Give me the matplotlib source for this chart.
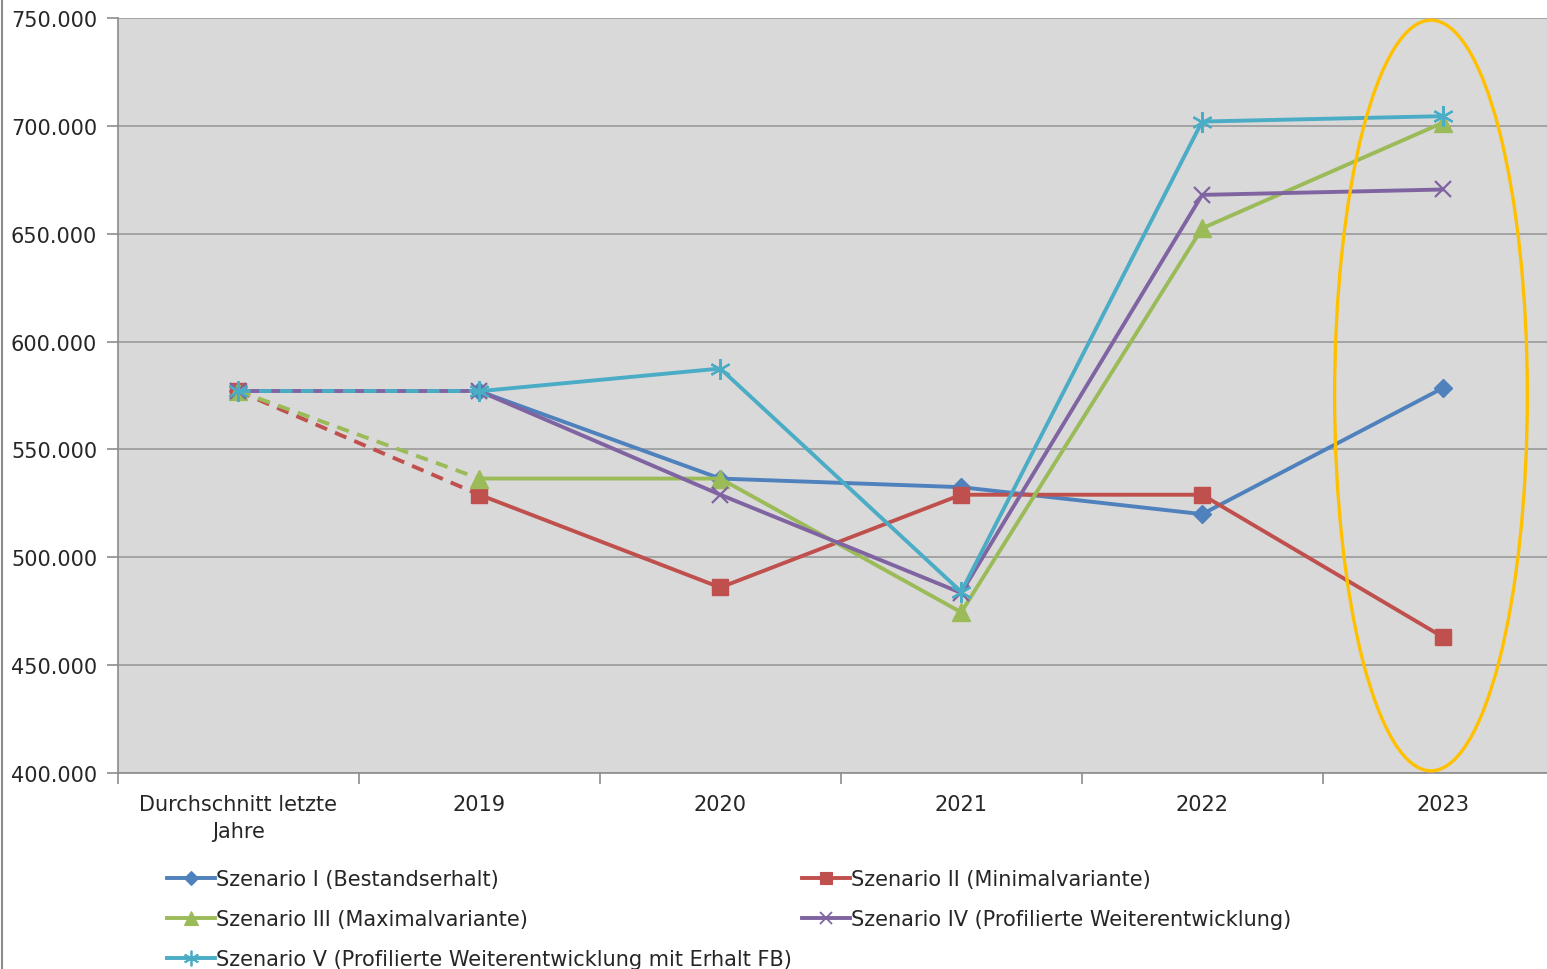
import matplotlib
matplotlib.use('Agg')
import matplotlib.pyplot as plt
from matplotlib.patches import Ellipse
from matplotlib.ticker import FuncFormatter, MultipleLocator, FixedLocator
from matplotlib.lines import Line2D

categories = ['Durchschnitt letzte\nJahre', '2019', '2020', '2021', '2022', '2023']
s1 = [577, 577, 536.5, 532.5, 520, 578.5]
s2 = [577, 529, 486, 529, 529, 463]
s3 = [577, 536.5, 536.5, 474.5, 652.5, 701.5]
s4 = [577, 577, 529, 483.5, 668, 670.5]
s5 = [577, 577, 587.5, 484, 702, 704.5]
names = ['Szenario I (Bestandserhalt)',
         'Szenario II (Minimalvariante)',
         'Szenario III (Maximalvariante)',
         'Szenario IV (Profilierte Weiterentwicklung)',
         'Szenario V (Profilierte Weiterentwicklung mit Erhalt FB)']

plt.rcParams['font.family'] = ['DejaVu Sans']
FS = 15
TXT = '#262626'

fig = plt.figure(figsize=(15.47, 9.70), dpi=100)
ax = fig.add_axes([118/1547, 1-774/970, (1563.5-118)/1547, (774-19)/970])
ax.set_facecolor('#D9D9D9')

colors = ['#4F81BD', '#C0504D', '#9BBB59', '#8064A2', '#4BACC6']
markers = ['D', 's', '^', 'x', (6, 2, 0)]
msizes = [9, 12, 13, 12, 15]
mews = [1, 1, 1, 1.6, 1.6]
series = [s1, s2, s3, s4, s5]
x = list(range(len(categories)))
lw = 2.8
handles = []
for i, (s, c, m, ms, mew) in enumerate(zip(series, colors, markers, msizes, mews)):
    ls = (0, (3.2, 2.2)) if i != 3 else (3.2, (3.2, 2.2))
    ax.plot(x[:2], s[:2], color=c, lw=lw, linestyle=ls, zorder=3 + i)
    ax.plot(x[1:], s[1:], color=c, lw=lw, solid_capstyle='round', zorder=3 + i)
    ax.plot(x, s, linestyle='none', marker=m, markersize=ms, color=c,
            markeredgecolor=c, markeredgewidth=mew, zorder=3 + i)
    handles.append(Line2D([], [], color=c, lw=lw, marker=m,
                          markersize=ms * 0.75, markeredgewidth=mew * 0.8,
                          markeredgecolor=c))

ax.set_xlim(-0.5, 5.5)
ax.set_ylim(400, 750)
ax.yaxis.set_major_locator(MultipleLocator(50))
ax.yaxis.set_major_formatter(FuncFormatter(lambda v, p: f'{int(v)}.000'))
ax.grid(axis='y', color='#9A9A9A', lw=1.2, zorder=1)
ax.set_axisbelow(True)
ax.set_xticks(x)
ax.set_xticklabels(categories, fontsize=FS, color=TXT, linespacing=1.45)
ax.xaxis.set_minor_locator(FixedLocator([-0.5, 0.5, 1.5, 2.5, 3.5, 4.5, 5.5]))
ax.tick_params(axis='x', which='major', length=0, pad=15)
ax.tick_params(axis='x', which='minor', length=8, color='#8C8C8C', width=1.2)
ax.tick_params(axis='y', length=8, color='#8C8C8C', width=1.2, labelsize=FS,
               labelcolor=TXT, pad=7)
for sp in ['top', 'right']:
    ax.spines[sp].set_visible(False)
for sp in ['left', 'bottom']:
    ax.spines[sp].set_color('#8C8C8C')
    ax.spines[sp].set_linewidth(1.2)

ell = Ellipse((4.95, 575), width=0.80, height=348, fill=False,
              edgecolor='#FFC000', lw=2.4, zorder=10)
ax.add_patch(ell)

order = [0, 2, 4, 1, 3]
leg = fig.legend([handles[i] for i in order], [names[i] for i in order],
                 ncol=2, loc='upper left', bbox_to_anchor=(167/1547, 1-870/970),
                 frameon=False, fontsize=FS, handlelength=2.3, handletextpad=0.05,
                 columnspacing=0.5, labelspacing=0.97, borderpad=0,
                 borderaxespad=0)
for t in leg.get_texts():
    t.set_color(TXT)

fig.add_artist(Line2D([1.5/1547, 1.5/1547], [0, 1], transform=fig.transFigure,
                      color='#8C8C8C', lw=1.5))

fig.savefig('out.png', dpi=100, facecolor='white')
